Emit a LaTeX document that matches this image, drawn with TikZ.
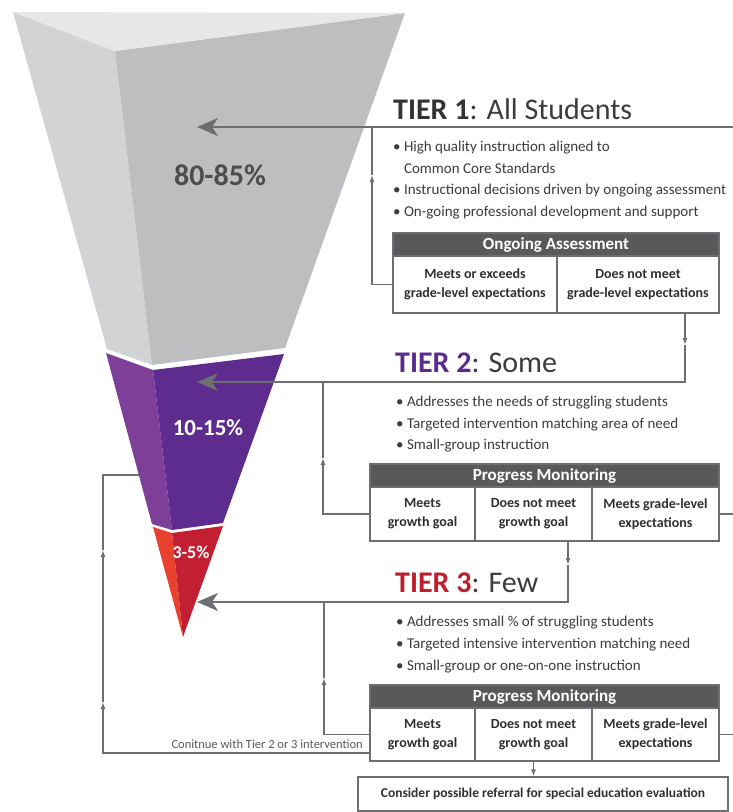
\documentclass[tikz,border=0pt]{standalone}
\usepackage{fontspec}
\setmainfont{Carlito}
\usetikzlibrary{arrows.meta}

\definecolor{linegrey}{HTML}{6D6E71}
\definecolor{barfill}{HTML}{58595B}
\definecolor{celltext}{HTML}{2F2F30}
\definecolor{bodytext}{HTML}{3C3C3E}
\definecolor{notegrey}{HTML}{58595B}
\definecolor{tierone}{HTML}{333335}
\definecolor{tiertwo}{HTML}{5B2C8F}
\definecolor{tierthree}{HTML}{BE1E2D}
\definecolor{greytop}{HTML}{E6E7E8}
\definecolor{greyleft}{HTML}{D1D3D4}
\definecolor{greyright}{HTML}{BCBEC0}
\definecolor{purpleleft}{HTML}{7E3F98}
\definecolor{purpleright}{HTML}{5E2B8E}
\definecolor{redleft}{HTML}{E8412F}
\definecolor{redright}{HTML}{C31F33}
\definecolor{percentgrey}{HTML}{4D4D4F}

\begin{document}
\begin{tikzpicture}[x=1pt, y=-1pt,
  flow/.style={draw=linegrey, line width=1.3pt},
  tierflow/.style={draw=linegrey, line width=2pt, -{Stealth[length=21pt, width=18pt, inset=6pt]}},
  midtip/.style={-{Latex[length=7pt, width=5pt]}},
  cell/.style={draw=linegrey, line width=1.3pt, fill=white, align=center, text=celltext, inner sep=0pt, font=\bfseries\fontsize{14}{19}\selectfont},
  headbar/.style={draw=linegrey, line width=1.3pt, fill=barfill, text=white, inner sep=0pt, font=\bfseries\fontsize{17}{20}\selectfont},
  listline/.style={anchor=base west, inner sep=0pt, text=bodytext, font=\fontsize{15}{19}\selectfont},
  tiertitle/.style={anchor=base west, inner sep=0pt, text=bodytext, font=\fontsize{30}{36}\selectfont}]
\useasboundingbox[fill=white] (0,0) rectangle (733,812);

%the funnel, grey part
\fill[greyleft] (13,12) -- (115,51) -- (152,365) -- (107,349) -- cycle;
\fill[greyright] (115,51) -- (405,13) -- (285,348) -- (152,365) -- cycle;
\fill[greytop] (13,12) -- (405,13) -- (115,51) -- cycle;
%purple part
\fill[purpleleft] (106,353) -- (153,370) -- (172,530) -- (152,524) -- cycle;
\fill[purpleright] (153,370) -- (284,354) -- (223,523) -- (172,530) -- cycle;
%red tip
\fill[redleft] (153,527) -- (172,533) -- (183,637) -- cycle;
\fill[redright] (172,533) -- (223,526) -- (183,637) -- cycle;
%percentages
\node[text=percentgrey, font=\bfseries\fontsize{30}{36}\selectfont] (share1) at (220,175) {80-85\%};
\node[text=white, font=\bfseries\fontsize{23}{28}\selectfont] (share2) at (208,428) {10-15\%};
\node[text=white, font=\bfseries\fontsize{18}{22}\selectfont] (share3) at (191,552) {3-5\%};

%tier 1
\node[tiertitle] (tier1) at (393,119) {\textcolor{tierone}{\textbf{TIER 1}}: All Students};
\node[listline] (t1a) at (393,151.5) {• High quality instruction aligned to};
\node[listline] (t1b) at (393,173) {\phantom{• }Common Core Standards};
\node[listline] (t1c) at (393,194.5) {• Instructional decisions driven by ongoing assessment};
\node[listline] (t1d) at (393,216) {• On-going professional development and support};
\node[headbar, minimum width=326pt, minimum height=23pt] (oahead) at (556,244.5) {Ongoing Assessment};
\node[cell, minimum width=164pt, minimum height=57pt] (oa1) at (475,284.5) {Meets or exceeds\\grade-level expectations};
\node[cell, minimum width=162pt, minimum height=57pt] (oa2) at (638,284.5) {Does not meet\\grade-level expectations};

%tier 2
\node[tiertitle] (tier2) at (395,372) {\textcolor{tiertwo}{\textbf{TIER 2}}: Some};
\node[listline] (t2a) at (396,406) {• Addresses the needs of struggling students};
\node[listline] (t2b) at (396,428) {• Targeted intervention matching area of need};
\node[listline] (t2c) at (396,449.5) {• Small-group instruction};
\node[headbar, minimum width=349pt, minimum height=23pt] (pm2head) at (544.5,475.5) {Progress Monitoring};
\node[cell, minimum width=105pt, minimum height=54pt] (pm2a) at (422.5,514) {Meets\\growth goal};
\node[cell, minimum width=117pt, minimum height=54pt] (pm2b) at (533.5,514) {Does not meet\\growth goal};
\node[cell, minimum width=127pt, minimum height=54pt] (pm2c) at (655.5,514) {Meets grade-level\\expectations};

%tier 3
\node[tiertitle] (tier3) at (395,592) {\textcolor{tierthree}{\textbf{TIER 3}}: Few};
\node[listline] (t3a) at (396,626.5) {• Addresses small \% of struggling students};
\node[listline] (t3b) at (396,648) {• Targeted intensive intervention matching need};
\node[listline] (t3c) at (396,670) {• Small-group or one-on-one instruction};
\node[headbar, minimum width=349pt, minimum height=23pt] (pm3head) at (544.5,696.5) {Progress Monitoring};
\node[cell, minimum width=105pt, minimum height=53pt] (pm3a) at (422.5,734.5) {Meets\\growth goal};
\node[cell, minimum width=117pt, minimum height=53pt] (pm3b) at (533.5,734.5) {Does not meet\\growth goal};
\node[cell, minimum width=127pt, minimum height=53pt] (pm3c) at (655.5,734.5) {Meets grade-level\\expectations};
\node[cell, minimum width=370pt, minimum height=34pt, font=\bfseries\fontsize{13.5}{16}\selectfont] (refer) at (543,794) {Consider possible referral for special education evaluation};
\node[anchor=base east, inner sep=0pt, text=notegrey, font=\fontsize{12.5}{15}\selectfont] (keepon) at (363,748) {Conitnue with Tier 2 or 3 intervention};

%end points of the connectors
\coordinate (rim) at (733,0);
\coordinate (t1tip) at (197,127);
\coordinate (t2tip) at (197,382);
\coordinate (t3tip) at (197,602);
\coordinate (t1back) at (372,127);
\coordinate (t2back) at (323,382);
\coordinate (t3back) at (324,602);
\coordinate (t1mark) at (372,175);
\coordinate (t2mark) at (323,458);
\coordinate (t3mark) at (324,678);
\coordinate (t2drop) at (685,313);
\coordinate (t2down) at (685,345);
\coordinate (t3drop) at (568,541);
\coordinate (t3down) at (568,565);
\coordinate (stay) at (370,753);
\coordinate (lowmark) at (103,702);
\coordinate (highmark) at (103,550);
\coordinate (farback) at (103,475);
\coordinate (funnelside) at (139,475);

%the connectors
\draw[tierflow] (t1tip -| rim) -- (t1tip);
\draw[flow, midtip] (oa1.west) -| (t1mark);
\draw[flow] (t1mark) -- (t1back);
\draw[flow, line width=2pt, midtip] (t2drop) -- (t2down);
\draw[tierflow] (t2down) |- (t2tip);
\draw[flow, midtip] (pm2a.west) -| (t2mark);
\draw[flow] (t2mark) -- (t2back);
\draw[flow] (pm2c.east) -- (pm2c.east -| rim);
\draw[flow, line width=2pt, midtip] (t3drop) -- (t3down);
\draw[tierflow] (t3down) |- (t3tip);
\draw[flow, midtip] (pm3a.west) -| (t3mark);
\draw[flow] (t3mark) -- (t3back);
\draw[flow] (pm3c.east) -- (pm3c.east -| rim);
\draw[flow, midtip] (stay) -| (lowmark);
\draw[flow, midtip] (lowmark) -- (highmark);
\draw[flow] (highmark) -- (farback) -- (funnelside);
\draw[flow, midtip] (pm3b.south) -- (pm3b.south |- refer.north);
\end{tikzpicture}
\end{document}
